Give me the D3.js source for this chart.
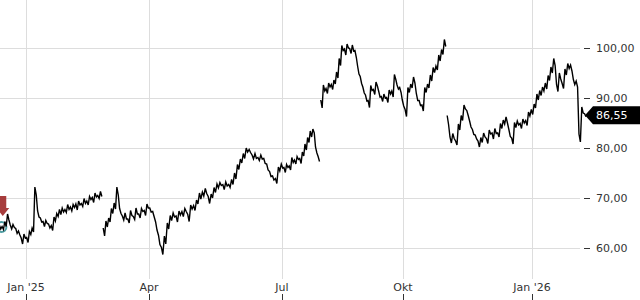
<!DOCTYPE html>
<html>
<head>
<meta charset="utf-8">
<script src="https://cdn.jsdelivr.net/npm/d3@7"></script>
<style>
    body { margin: 0; background: #fff; }
    text { font-family: "DejaVu Sans", sans-serif; font-size: 11px; }
</style>
</head>
<body>
<svg id="chart" width="640" height="300"></svg>
<script>
// price series: one close every 2 days starting at firstDay
let firstDay = "2024-12-13";
let stepDays = 2;
let prices = [
    64.2, 64.0, 64.8, 66.2, 64.2, 64.4, 63.4, 63.0, 61.4, 62.4, 61.6, 63.0, 63.6, 71.4, 66.8, 65.6,
    64.8, 65.2, 64.4, 64.0, 65.8, 66.6, 67.2, 67.6, 67.4, 68.2, 67.8, 68.4, 68.2, 69.0, 68.6, 69.4,
    69.0, 70.0, 69.6, 70.6, 70.2, 70.8, 63.2, 64.8, 65.6, 67.4, 68.4, 71.4, 67.4, 66.0, 66.4, 65.4,
    67.0, 66.0, 67.4, 66.4, 67.6, 67.0, 68.4,
    67.6, 66.8, 64.4, 61.6, 59.4, 61.6, 64.4, 66.0, 66.6, 65.8, 67.0, 66.8, 67.6, 66.0, 68.2, 68.0,
    69.2, 70.4, 70.8, 71.4, 69.6, 70.4, 71.6, 72.4, 72.8, 72.2, 72.8, 72.4, 73.2, 74.4, 76.2, 77.4,
    78.4, 79.6, 79.4, 78.2, 78.4, 77.8, 78.2, 77.4, 76.2, 74.8, 74.0, 73.4, 75.8,
    76.4, 75.6, 76.4, 76.0, 77.6, 77.2, 78.0, 77.4, 78.8, 80.2, 81.6, 82.8, 83.4, 79.6, 77.8, 88.8,
    92.0, 91.4, 92.6, 92.2, 93.2, 94.6, 97.2, 100.0, 99.2, 100.4, 99.4, 100.0, 98.8, 95.6, 93.6, 91.6,
    90.0, 88.8, 92.0, 91.2, 92.8, 90.8, 89.8, 90.4, 89.6, 91.2, 90.8, 94.2, 92.2, 91.6,
    89.0, 87.0, 91.6, 92.4, 93.6, 90.2, 89.0, 88.0, 91.6, 92.4, 94.0, 95.6, 96.0, 98.0, 99.2, 101.0,
    85.6, 81.6, 82.4, 81.0, 84.2, 86.0, 88.2, 87.0, 84.8, 83.2, 82.2, 80.8, 81.6, 82.6, 81.4, 83.2,
    82.4, 83.4, 82.6, 84.4, 85.2, 85.6, 83.0, 81.4, 84.6, 85.0, 84.4, 85.4, 85.0, 86.8,
    87.2, 88.4, 90.2, 91.0, 91.8, 92.4, 94.0, 95.6, 97.2, 92.0, 94.4, 92.4, 95.2, 96.4, 96.0, 93.2,
    92.8, 82.0, 87.6, 86.55
];
// intraday range (high - low) for each of those samples
let ranges = [
    0.8, 0.6, 1.0, 1.2, 0.8, 0.6, 1.0, 0.8, 1.2, 0.8, 1.0, 0.6, 0.8, 1.6, 1.2, 0.8,
    1.0, 0.6, 0.8, 1.0, 0.8, 0.6, 1.0, 0.8, 0.6, 1.0, 0.8, 0.6, 1.2, 0.8, 0.6, 1.0,
    0.8, 0.6, 1.0, 0.8, 0.6, 1.0, 1.6, 1.2, 0.8, 1.0, 1.2, 1.6, 1.0, 0.8, 1.2, 0.8,
    1.0, 0.6, 1.2, 0.8, 0.6, 1.0, 0.8,
    0.8, 1.0, 1.6, 1.8, 1.4, 1.6, 1.2, 1.0, 0.8, 1.2, 0.8, 1.0, 0.6, 1.4, 0.8, 1.0,
    0.8, 1.2, 0.8, 1.0, 1.4, 0.8, 1.0, 0.8, 0.6, 1.0, 0.8, 0.6, 1.0, 1.2, 1.0, 0.8,
    1.0, 0.8, 0.6, 0.8, 1.0, 0.6, 0.8, 1.0, 1.2, 1.0, 0.8, 1.0, 0.8,
    0.8, 1.0, 0.6, 0.8, 1.0, 0.8, 0.6, 1.0, 0.8, 1.2, 1.0, 1.2, 0.8, 1.2, 1.0, 1.6,
    1.2, 1.0, 0.8, 1.0, 0.8, 1.2, 1.4, 1.0, 1.2, 0.8, 1.0, 1.2, 1.4, 1.6, 1.4, 1.2,
    1.2, 1.4, 1.0, 1.0, 0.8, 1.2, 1.0, 0.8, 1.0, 0.8, 1.2, 1.0, 0.8, 1.0,
    1.2, 1.4, 1.0, 0.8, 1.2, 1.4, 1.0, 1.2, 1.0, 0.8, 1.2, 1.0, 0.8, 1.2, 1.0, 1.4,
    1.8, 1.2, 1.0, 0.8, 1.2, 1.0, 0.8, 1.0, 1.2, 1.0, 0.8, 1.2, 1.0, 0.8, 1.0, 0.8,
    1.2, 1.0, 0.8, 1.0, 0.8, 1.2, 1.4, 1.2, 1.0, 0.8, 1.0, 0.8, 1.0, 0.8,
    1.0, 0.8, 1.2, 1.0, 0.8, 1.2, 1.0, 1.2, 1.4, 1.4, 1.2, 1.0, 1.2, 1.0, 1.2, 1.0,
    1.2, 1.6, 1.2, 0.6
];
// days where the series has a break
let gapDays = ["2025-02-26", "2025-07-30", "2025-11-01"];

let tickDays = ["2025-01-01", "2025-04-01", "2025-07-01", "2025-10-01", "2026-01-01"];
let tickLabels = ["Jan '25", "Apr", "Jul", "Okt", "Jan '26"];
let priceTicks = [60, 70, 80, 90, 100];
let lastPrice = 86.55;

// event markers on the line
let markerDays = ["2024-12-14", "2024-12-15"];
let markerKinds = ["circle", "arrow"];

let parse = d3.utcParse("%Y-%m-%d");
let de = d3.formatLocale({decimal: ",", thousands: ".", grouping: [3], currency: ["", " €"]});
let fmt = de.format(".2f");

let svg = d3.select("#chart");
let plotRight = 580;
let plotBottom = 279;

//build the points, null value = gap
let start = parse(firstDay);
let points = prices.map(function(v, i){
    return {date: d3.utcDay.offset(start, i * stepDays), value: v, range: ranges[i]};
});
gapDays.forEach(function(g){
    points.push({date: parse(g), value: null, range: 0});
});
points.sort(function(a, b){ return a.date - b.date; });

// the axis is not evenly spaced over calendar days, so pin each tick
let xscale = d3.scaleUtc()
    .domain(tickDays.map(parse))
    .range([26, 149, 282, 403, 532]);
let yscale = d3.scaleLinear()
    .domain([60, 100])
    .range([248, 48]);

//grid
svg.append("g").selectAll("line").data(priceTicks).enter().append("line")
    .attr("x1", 0)
    .attr("x2", plotRight)
    .attr("y1", function(d){ return yscale(d) + 0.5; })
    .attr("y2", function(d){ return yscale(d) + 0.5; })
    .attr("stroke", "#dddddd");

svg.append("g").selectAll("line").data(tickDays).enter().append("line")
    .attr("x1", function(d){ return Math.round(xscale(parse(d))) + 0.5; })
    .attr("x2", function(d){ return Math.round(xscale(parse(d))) + 0.5; })
    .attr("y1", 0)
    .attr("y2", plotBottom)
    .attr("stroke", "#dddddd");

//y axis on the right
let yaxis = svg.append("g");
yaxis.selectAll("line").data(priceTicks).enter().append("line")
    .attr("x1", plotRight + 4)
    .attr("x2", plotRight + 10)
    .attr("y1", function(d){ return yscale(d) + 0.5; })
    .attr("y2", function(d){ return yscale(d) + 0.5; })
    .attr("stroke", "#333");
yaxis.selectAll("text").data(priceTicks).enter().append("text")
    .attr("x", plotRight + 16)
    .attr("y", function(d){ return yscale(d); })
    .attr("dy", "0.36em")
    .attr("fill", "#333")
    .text(function(d){ return fmt(d); });

//x axis labels
let xaxis = svg.append("g");
xaxis.selectAll("text").data(tickDays).enter().append("text")
    .attr("x", function(d){ return xscale(parse(d)); })
    .attr("y", 291)
    .attr("text-anchor", "middle")
    .attr("fill", "#333")
    .text(function(d, i){ return tickLabels[i]; });
xaxis.selectAll("line").data(tickDays).enter().append("line")
    .attr("x1", function(d){ return Math.round(xscale(parse(d))) + 0.5; })
    .attr("x2", function(d){ return Math.round(xscale(parse(d))) + 0.5; })
    .attr("y1", 294)
    .attr("y2", 300)
    .attr("stroke", "#333");

//markers (drawn below the line)
function valueAt(day){
    let t = parse(day);
    let best = points.filter(function(p){ return p.value != null; })
        .reduce(function(a, b){ return Math.abs(b.date - t) < Math.abs(a.date - t) ? b : a; });
    return best.value;
}
markerDays.forEach(function(day, i){
    let mx = xscale(parse(day));
    let my = yscale(valueAt(day));
    if(markerKinds[i] === "circle"){
        svg.append("circle")
            .attr("cx", mx)
            .attr("cy", my)
            .attr("r", 5)
            .attr("fill", "none")
            .attr("stroke", "#4f9ea3")
            .attr("stroke-width", 2);
    } else {
        let tip = my - 12;
        svg.append("path")
            .attr("d", "M" + (mx - 3.5) + "," + (tip - 20) + "H" + (mx + 3.5) + "V" + (tip - 8)
                + "H" + (mx + 6.5) + "L" + mx + "," + tip + "L" + (mx - 6.5) + "," + (tip - 8)
                + "H" + (mx - 3.5) + "Z")
            .attr("fill", "#a63c3c");
    }
});

//price line: each sample goes through its high and low, which gives the dense intraday look
let trace = [];
points.forEach(function(p){
    if(p.value == null){
        trace.push(null);
        return;
    }
    let px = xscale(p.date);
    trace.push([px - 0.7, yscale(p.value + p.range / 2)]);
    trace.push([px + 0.7, yscale(p.value - p.range / 2)]);
});

let line = d3.line()
    .defined(function(d){ return d != null; });

svg.append("path")
    .datum(trace)
    .attr("d", line)
    .attr("fill", "none")
    .attr("stroke", "#000")
    .attr("stroke-width", 1.4)
    .attr("stroke-linejoin", "miter");

//last price tag
let ly = yscale(lastPrice);
let tagLeft = plotRight + 5;
svg.append("path")
    .attr("d", "M" + tagLeft + "," + ly + "L" + (tagLeft + 8) + "," + (ly - 9) + "H640V" + (ly + 9)
        + "H" + (tagLeft + 8) + "Z")
    .attr("fill", "#000");
svg.append("text")
    .attr("x", plotRight + 16)
    .attr("y", ly)
    .attr("dy", "0.36em")
    .attr("fill", "#fff")
    .text(fmt(lastPrice));
</script>
</body>
</html>
